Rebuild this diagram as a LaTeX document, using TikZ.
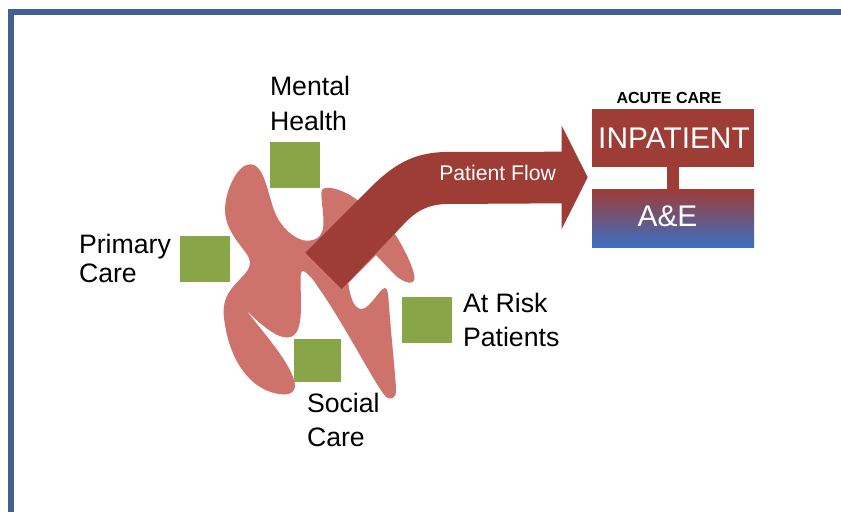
\documentclass[tikz,border=0pt]{standalone}
\usepackage{fontspec}
\setmainfont{Liberation Sans}
\definecolor{flowred}{HTML}{9E3C36}
\definecolor{blobred}{HTML}{CD736C}
\definecolor{boxgreen}{HTML}{88A548}
\definecolor{frameblue}{HTML}{426192}
\definecolor{aeblue}{HTML}{3A70C4}
\tikzset{
  greenbox/.style={fill=boxgreen,draw=none,inner sep=0pt,outer sep=0pt,anchor=north west},
  lab/.style={inner sep=0pt,outer sep=0pt,anchor=base west,text=black,font=\fontsize{20pt}{26pt}\selectfont},
  acutebox/.style={inner sep=0pt,outer sep=0pt,anchor=north west,minimum width=121.5pt},
  acutetext/.style={inner sep=0pt,outer sep=0pt,anchor=base,text=white,font=\fontsize{22.4pt}{26pt}\selectfont}
}
\begin{document}
\begin{tikzpicture}[x=0.75pt,y=-0.75pt]
\useasboundingbox (0,0) rectangle (841,511);
\begin{scope}
\clip (0,0) rectangle (841,511);
\fill[white] (0,0) rectangle (841,511);
\draw[frameblue,line width=4.5pt] (11,530) -- (11,12) -- (860,12);
\end{scope}
% blob
\fill[blobred] (246,310)
 .. controls (266.7,336.7) and (293,366) .. (295,385)
 .. controls (295,392) and (290,394.5) .. (285,394.5)
 .. controls (255,394) and (228,365) .. (223.5,313)
 .. controls (223.5,295) and (232,288) .. (241,278)
 .. controls (247,272) and (250,268) .. (250,262)
 .. controls (250,252) and (225,235) .. (225,210)
 .. controls (225,190) and (238,164) .. (250,164.3)
 .. controls (266,164) and (268,200) .. (277,217)
 .. controls (285,232) and (298,240.7) .. (307,240.7)
 .. controls (318,240.7) and (323.5,235) .. (323.5,222)
 .. controls (323.5,210) and (320,195) .. (322,190)
 .. controls (324,186) and (335,187) .. (350,195)
 .. controls (365,205) and (385,220) .. (396.7,236.7)
 .. controls (405,250) and (414.5,270) .. (414.5,278)
 .. controls (414.5,285) and (405,284) .. (395,275)
 -- (376,255) -- (348.3,283)
 .. controls (350,297) and (354,309) .. (361.5,309)
 .. controls (370,309) and (380,288) .. (385,288)
 .. controls (388,288) and (388,295) .. (389,305)
 .. controls (391,335) and (396,380) .. (396,391)
 .. controls (396,399) and (390,400) .. (386,397)
 .. controls (375,385) and (345,325) .. (318,287)
 .. controls (312,277) and (305,271) .. (303,271)
 .. controls (299,271) and (301,285) .. (301,305)
 .. controls (301,325) and (298,337.5) .. (287,337.5)
 .. controls (275,337.5) and (258,322) .. (246,310) -- cycle;
% flow arrow
\fill[flowred] (305.3,252.7) -- (370,188) .. controls (393,165) and (413,152.7) .. (445,152) -- (561.7,151.7) -- (561.7,125.7) -- (587.7,177.3) -- (561.7,229) -- (561.7,203.3) -- (445,204) .. controls (425,205) and (414,213) .. (403,225) -- (341.7,289) -- cycle;
\node[inner sep=0pt,anchor=base west,text=white,font=\fontsize{15.9pt}{18pt}\selectfont] (flow) at (439,180) {Patient Flow};
% green squares
\node[greenbox,minimum width=37.5pt,minimum height=34.5pt] (mh) at (270,142) {};
\node[greenbox,minimum width=37.5pt,minimum height=34.5pt] (pc) at (180,236) {};
\node[greenbox,minimum width=37.5pt,minimum height=34.5pt] (ar) at (402,297) {};
\node[greenbox,minimum width=35.25pt,minimum height=32.25pt] (sc) at (294,339) {};
% labels
\node[lab] (mhl1) at (270,95) {Mental};
\node[lab] (mhl2) at (270,130) {Health};
\node[lab] (pcl1) at (79,253) {Primary};
\node[lab] (pcl2) at (79,282) {Care};
\node[lab] (arl1) at (463,312) {At Risk};
\node[lab] (arl2) at (463,346) {Patients};
\node[lab] (scl1) at (307,412) {Social};
\node[lab] (scl2) at (307,446) {Care};
% acute care
\node[inner sep=0pt,anchor=base,text=black,font=\fontsize{12pt}{14pt}\bfseries\selectfont] (ac) at (669,103) {ACUTE CARE};
\node[acutebox,fill=flowred,minimum height=43.5pt] (inp) at (592,109) {};
\node[acutebox,top color=flowred,bottom color=aeblue,minimum height=44pt] (ae) at (592,189) {};
\draw[flowred,line width=9pt] (inp.south) -- (ae.north);
\node[acutetext] (inpt) at (674,148) {INPATIENT};
\node[acutetext] (aet) at (667.5,226) {A\&E};
\end{tikzpicture}
\end{document}
